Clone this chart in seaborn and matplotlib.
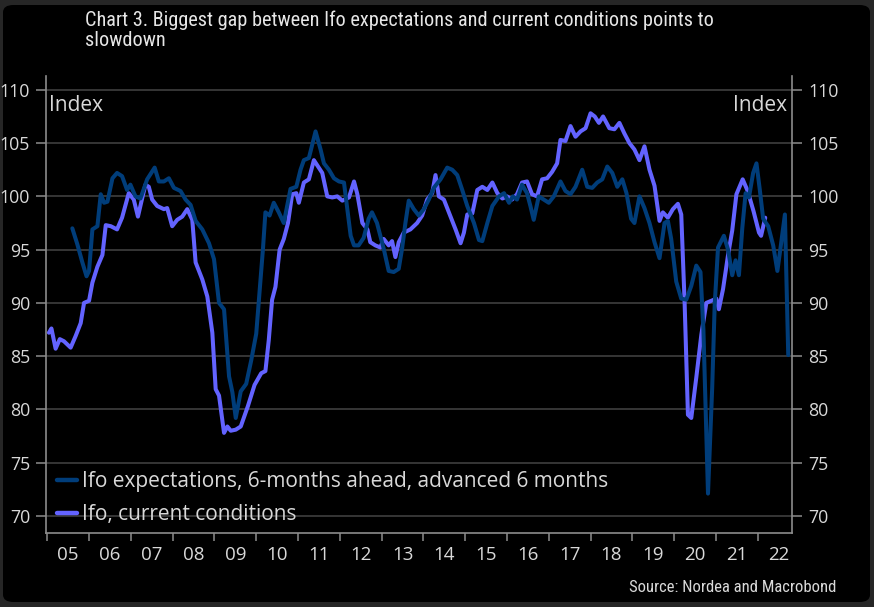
import matplotlib
matplotlib.use("Agg")
import matplotlib.pyplot as plt
from matplotlib.patches import FancyBboxPatch
from matplotlib.lines import Line2D
import numpy as np
import pandas as pd
import seaborn as sns

# ---------------- data ----------------
cur_year = [2005.04, 2005.10, 2005.20, 2005.30, 2005.40, 2005.56, 2005.68, 2005.80, 2005.88, 2006.00,
            2006.08, 2006.20, 2006.32, 2006.40, 2006.52, 2006.67, 2006.79, 2006.95, 2007.07, 2007.17,
            2007.27, 2007.35, 2007.43, 2007.51, 2007.63, 2007.79, 2007.87, 2007.99, 2008.11, 2008.23,
            2008.35, 2008.47, 2008.55, 2008.71, 2008.83, 2008.95, 2009.03, 2009.11, 2009.23, 2009.31,
            2009.39, 2009.51, 2009.63, 2009.80, 2009.96, 2010.12, 2010.22, 2010.30, 2010.38, 2010.46,
            2010.56, 2010.66, 2010.76, 2010.86, 2010.96, 2011.02, 2011.14, 2011.26, 2011.38, 2011.48,
            2011.58, 2011.70, 2011.82, 2011.94, 2012.06, 2012.22, 2012.34, 2012.42, 2012.54, 2012.66,
            2012.73, 2012.85, 2012.97, 2013.05, 2013.17, 2013.25, 2013.33, 2013.41, 2013.53, 2013.69,
            2013.85, 2013.97, 2014.09, 2014.21, 2014.29, 2014.37, 2014.49, 2014.65, 2014.77, 2014.89,
            2014.97, 2015.05, 2015.17, 2015.29, 2015.41, 2015.53, 2015.65, 2015.77, 2015.89, 2016.00,
            2016.12, 2016.24, 2016.36, 2016.48, 2016.60, 2016.72, 2016.84, 2016.96, 2017.08, 2017.20,
            2017.28, 2017.40, 2017.52, 2017.64, 2017.76, 2017.88, 2018.00, 2018.10, 2018.20, 2018.30,
            2018.45, 2018.57, 2018.69, 2018.81, 2018.93, 2019.05, 2019.17, 2019.29, 2019.41, 2019.53,
            2019.65, 2019.73, 2019.85, 2019.97, 2020.09, 2020.17, 2020.25, 2020.33, 2020.41, 2020.53,
            2020.65, 2020.77, 2020.89, 2021.01, 2021.07, 2021.17, 2021.29, 2021.39, 2021.49, 2021.64,
            2021.76, 2021.90, 2022.03, 2022.08, 2022.18]
cur_value = [87.2, 87.6, 85.7, 86.6, 86.4, 85.8, 86.9, 88.1, 90.0, 90.2,
             91.9, 93.4, 94.5, 97.3, 97.2, 96.9, 98.0, 100.3, 99.7, 98.1,
             99.8, 101.1, 100.9, 99.7, 99.1, 98.8, 98.9, 97.2, 97.8, 98.1,
             98.8, 97.8, 93.8, 92.2, 90.6, 87.2, 81.9, 81.3, 77.8, 78.4,
             78.0, 78.1, 78.4, 80.3, 82.3, 83.4, 83.6, 86.5, 90.3, 91.5,
             95.0, 96.0, 97.5, 100.2, 100.3, 99.4, 101.3, 101.6, 103.4, 102.8,
             102.2, 100.0, 99.9, 100.0, 99.6, 99.9, 101.4, 100.2, 97.5, 96.9,
             95.7, 95.4, 95.2, 96.0, 95.4, 95.8, 94.3, 95.7, 96.6, 96.9,
             97.5, 98.2, 99.7, 100.3, 102.0, 100.0, 99.7, 98.1, 96.9, 95.6,
             96.6, 98.3, 98.4, 100.6, 100.9, 100.6, 101.3, 100.3, 99.8, 100.0,
             99.7, 100.2, 101.3, 101.4, 100.2, 100.0, 101.6, 101.7, 102.3, 103.1,
             105.3, 105.2, 106.6, 105.6, 106.1, 106.4, 107.8, 107.5, 106.9, 107.5,
             106.4, 106.3, 106.9, 105.9, 105.0, 104.4, 103.4, 104.7, 102.5, 101.0,
             97.7, 98.5, 98.0, 98.8, 99.3, 98.3, 90.1, 79.5, 79.2, 83.0,
             87.0, 90.0, 90.2, 90.4, 89.4, 91.3, 94.5, 96.8, 100.2, 101.6,
             100.5, 98.6, 96.6, 96.3, 98.0]

exp_year = [2005.60, 2005.72, 2005.84, 2005.94, 2006.00, 2006.08, 2006.20, 2006.28, 2006.36, 2006.44,
            2006.56, 2006.67, 2006.79, 2006.91, 2006.99, 2007.11, 2007.23, 2007.39, 2007.57, 2007.67,
            2007.79, 2007.91, 2008.03, 2008.19, 2008.31, 2008.43, 2008.55, 2008.71, 2008.87, 2008.99,
            2009.11, 2009.23, 2009.35, 2009.43, 2009.51, 2009.63, 2009.76, 2009.88, 2010.00, 2010.08,
            2010.16, 2010.22, 2010.32, 2010.42, 2010.54, 2010.66, 2010.82, 2010.96, 2011.06, 2011.14,
            2011.26, 2011.42, 2011.54, 2011.62, 2011.74, 2011.86, 2011.98, 2012.10, 2012.18, 2012.26,
            2012.34, 2012.45, 2012.57, 2012.69, 2012.77, 2012.89, 2013.05, 2013.17, 2013.29, 2013.41,
            2013.49, 2013.57, 2013.65, 2013.77, 2013.89, 2014.01, 2014.13, 2014.25, 2014.41, 2014.57,
            2014.69, 2014.81, 2014.93, 2015.05, 2015.21, 2015.33, 2015.41, 2015.53, 2015.65, 2015.81,
            2015.93, 2016.05, 2016.14, 2016.24, 2016.36, 2016.48, 2016.56, 2016.64, 2016.76, 2016.88,
            2017.00, 2017.12, 2017.28, 2017.40, 2017.52, 2017.64, 2017.80, 2017.92, 2018.04, 2018.16,
            2018.28, 2018.40, 2018.52, 2018.64, 2018.76, 2018.86, 2018.97, 2019.05, 2019.17, 2019.29,
            2019.41, 2019.53, 2019.65, 2019.77, 2019.85, 2019.93, 2020.05, 2020.17, 2020.29, 2020.41,
            2020.53, 2020.63, 2020.70, 2020.81, 2020.91, 2020.97, 2021.05, 2021.19, 2021.29, 2021.39,
            2021.47, 2021.55, 2021.63, 2021.71, 2021.79, 2021.89, 2021.97, 2022.05, 2022.13, 2022.25,
            2022.37, 2022.47, 2022.55, 2022.65, 2022.73]
exp_value = [97.0, 95.5, 93.8, 92.5, 93.0, 96.9, 97.2, 100.2, 99.4, 99.5,
             101.7, 102.2, 101.9, 100.6, 101.1, 100.0, 99.8, 101.6, 102.7, 101.4,
             101.4, 101.7, 100.8, 100.5, 99.7, 99.2, 97.7, 96.9, 95.6, 94.1,
             90.0, 89.4, 83.1, 81.6, 79.2, 81.7, 82.4, 84.6, 87.1, 91.0,
             95.0, 98.5, 98.2, 99.4, 98.5, 97.5, 100.7, 100.9, 102.5, 103.4,
             103.6, 106.1, 104.4, 103.1, 102.5, 101.7, 101.4, 101.3, 98.8, 96.3,
             95.4, 95.4, 96.1, 97.9, 98.5, 97.5, 95.1, 93.0, 92.9, 93.2,
             95.1, 97.5, 99.6, 98.8, 98.2, 98.8, 99.7, 100.8, 101.6, 102.7,
             102.5, 102.0, 100.6, 99.1, 97.5, 95.9, 95.8, 97.5, 99.1, 100.0,
             100.3, 99.4, 100.0, 99.7, 101.1, 100.3, 99.1, 97.8, 100.0, 99.7,
             99.4, 100.0, 101.4, 100.5, 100.2, 100.9, 102.5, 100.9, 100.8, 101.3,
             101.6, 102.8, 102.2, 100.9, 101.6, 100.3, 97.9, 97.5, 100.0, 98.9,
             97.5, 95.7, 94.2, 97.5, 97.7, 96.0, 92.0, 90.4, 90.3, 91.6,
             93.5, 92.9, 87.5, 72.1, 82.0, 89.8, 95.2, 96.3, 95.0, 92.6,
             94.0, 92.6, 97.0, 100.3, 99.9, 102.2, 103.1, 100.6, 97.9, 97.2,
             95.4, 93.0, 95.3, 98.3, 85.1]

series_names = ["Ifo expectations, 6-months ahead, advanced 6 months", "Ifo, current conditions"]
year_labels = ["05", "06", "07", "08", "09", "10", "11", "12", "13", "14", "15",
               "16", "17", "18", "19", "20", "21", "22"]
y_ticks = [70, 75, 80, 85, 90, 95, 100, 105, 110]
title_text = "Chart 3. Biggest gap between Ifo expectations and current conditions points to\nslowdown"
source_text = "Source: Nordea and Macrobond"

# ---------------- style ----------------
sns.set_theme(style="dark")
plt.rcParams['font.family'] = ['Open Sans', 'DejaVu Sans']
NARROW = ['Roboto Condensed', 'Liberation Sans Narrow', 'Roboto', 'DejaVu Sans']
TXT = '#d9d9d9'
SPINE = '#8c8c8c'
DARK = '#003d7a'
LIGHT = '#6363ff'

W, H = 874, 607
fig = plt.figure(figsize=(W / 100, H / 100), dpi=100)
fig.patch.set_facecolor('#262626')
panel = FancyBboxPatch((3 / W, 5 / H), 867 / W, 597 / H,
                       boxstyle="round,pad=0,rounding_size=0.012",
                       transform=fig.transFigure, facecolor='black',
                       edgecolor='none', zorder=-10)
fig.patches.append(panel)

ax = fig.add_axes([46 / W, 1 - 533 / H, (792 - 46) / W, (533 - 76) / H])
ax.set_facecolor('black')

df_cur = pd.DataFrame({"year": cur_year, "value": cur_value})
df_exp = pd.DataFrame({"year": exp_year, "value": exp_value})

sns.lineplot(data=df_cur, x="year", y="value", ax=ax, color=LIGHT, lw=2.9,
             estimator=None, sort=False, zorder=3)
sns.lineplot(data=df_exp, x="year", y="value", ax=ax, color=DARK, lw=2.9,
             estimator=None, sort=False, zorder=4)

ax.set_xlim(2004.97, 2022.82)
ax.set_ylim(68.4, 111.3)
ax.set_xlabel("")
ax.set_ylabel("")

# y axis both sides
ax.set_yticks(y_ticks)
ax.set_yticklabels([str(v) for v in y_ticks])
ax.tick_params(axis='y', which='major', left=True, right=True, labelleft=True,
               labelright=True, length=7, width=1.1, color=SPINE,
               labelcolor=TXT, labelsize=12.8, pad=4.5, direction='out')

# x axis: ticks at year boundaries, labels at mid-year
years = np.arange(2005, 2023)
ax.set_xticks(years)
ax.set_xticklabels([])
ax.set_xticks(years + 0.5, minor=True)
ax.set_xticklabels(year_labels, minor=True)
ax.tick_params(axis='x', which='major', bottom=True, length=6, width=1.1,
               color=SPINE, direction='out')
ax.tick_params(axis='x', which='minor', bottom=True, length=0, labelsize=13.5,
               labelcolor=TXT, pad=9)

ax.yaxis.grid(True, color='#3a3a3a', lw=1.3)
ax.xaxis.grid(False)
for s in ['left', 'right', 'bottom']:
    ax.spines[s].set_visible(True)
    ax.spines[s].set_color(SPINE)
    ax.spines[s].set_linewidth(1.2)
ax.spines['top'].set_visible(False)

ax.text(0.004, 0.9365, "Index", transform=ax.transAxes, ha='left', va='center',
        color=TXT, fontsize=15)
ax.text(0.9933, 0.9365, "Index", transform=ax.transAxes, ha='right', va='center',
        color=TXT, fontsize=15)

handles = [Line2D([0], [0], color=DARK, lw=3.2), Line2D([0], [0], color=LIGHT, lw=3.2)]
leg = ax.legend(handles, series_names, loc='lower left',
                bbox_to_anchor=(11 / 746, 8 / 457), frameon=False, fontsize=15,
                handlelength=0.95, handletextpad=0.25, labelspacing=0.58,
                borderpad=0, borderaxespad=0)
for t in leg.get_texts():
    t.set_color(TXT)

fig.text(85 / W, 1 - 11 / H, title_text, ha='left', va='top', color='#e6e6e6',
         fontsize=14.6, family=NARROW, linespacing=1.02)
fig.text(836 / W, 1 - 587 / H, source_text, ha='right', va='center', color=TXT,
         fontsize=12, family=NARROW)

fig.savefig("out.png", dpi=100, facecolor=fig.get_facecolor())
